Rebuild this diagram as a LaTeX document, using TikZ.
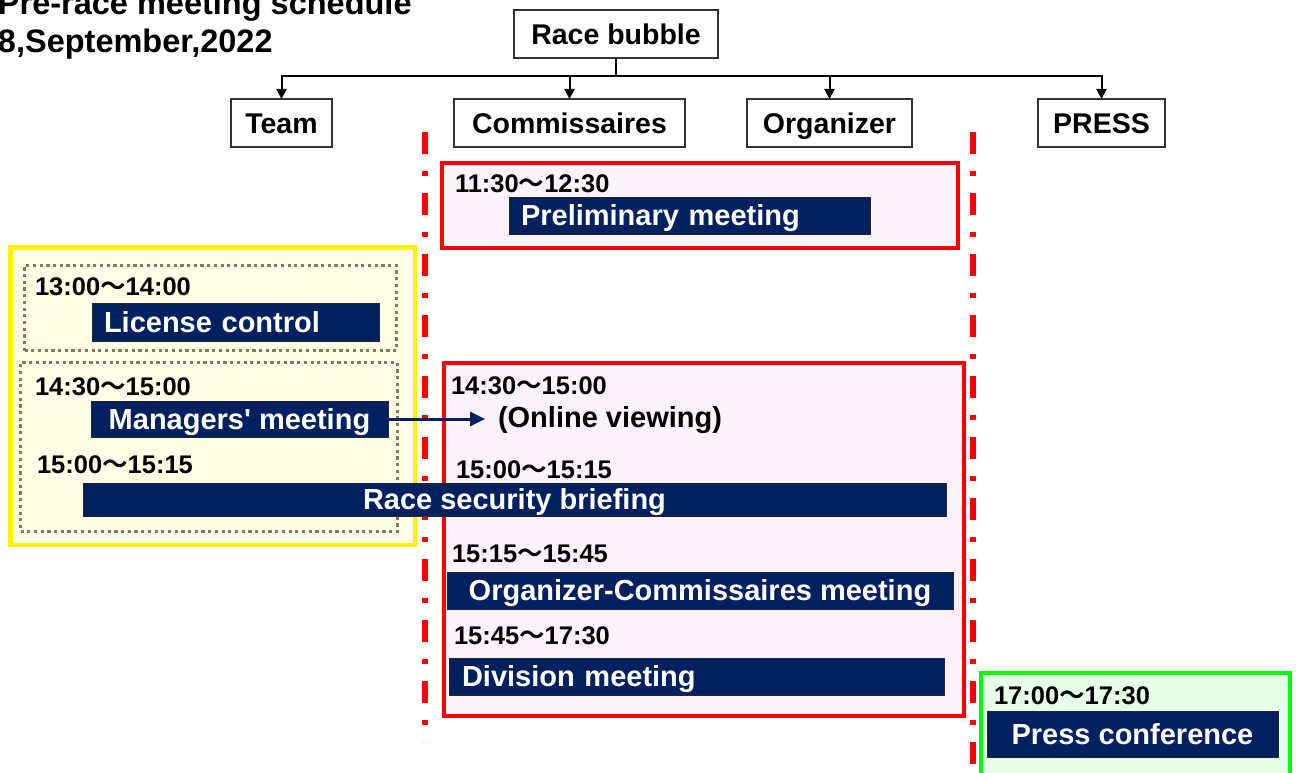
\documentclass[tikz,border=0pt]{standalone}
\usepackage{fontspec}
\setmainfont{Liberation Sans}
\newfontfamily\cjk{Noto Sans CJK JP}[BoldFont={Noto Sans CJK JP Bold}]
\usetikzlibrary{arrows.meta}
\definecolor{navy}{HTML}{002060}
\definecolor{pinkfill}{HTML}{FDF1FA}
\definecolor{creamfill}{HTML}{FFFEE6}
\definecolor{greenfill}{HTML}{E6FFE6}
\definecolor{dotbrown}{HTML}{8A7556}
\newcommand{\wv}{{\cjk ～}}
\newcommand{\sq}{\XeTeXglyph\XeTeXcharglyph"0027\relax}
\begin{document}
\begin{tikzpicture}[x=1pt,y=-1pt,
  every node/.style={inner sep=0pt, outer sep=0pt},
  titletext/.style={font=\fontsize{32.5}{38}\selectfont\bfseries, anchor=base west},
  headbox/.style={draw=black!80, line width=1.5pt, fill=white,
    font=\fontsize{28.5}{34}\selectfont\bfseries, text height=20.4pt, text depth=0pt,
    minimum height=48pt},
  timetext/.style={font=\fontsize{25.5}{30}\selectfont\bfseries, anchor=base west},
  plaintext/.style={font=\fontsize{29}{34}\selectfont\bfseries, anchor=base west},
  navybox/.style={draw=black!85, line width=0.8pt, fill=navy, text=white,
    font=\fontsize{29}{34}\selectfont\bfseries, text height=20.8pt, text depth=0pt},
  redbox/.style={draw=red, line width=4pt, fill=pinkfill},
  yellowbox/.style={draw=yellow, line width=4.5pt, fill=creamfill},
  greenbox/.style={draw=green, line width=4pt, fill=greenfill},
  dotbox/.style={draw=dotbrown, line width=3.2pt, dash pattern=on 3.2pt off 3.5pt},
  reddash/.style={draw=red, line width=5.5pt, dash pattern=on 22pt off 17pt on 5pt off 17pt},
  treearrow/.style={draw=black, line width=2pt, -{Triangle[length=10pt,width=10pt]}},
  navyarrow/.style={draw=navy, line width=3pt, -{Triangle[length=15pt,width=14pt]}}
]
\useasboundingbox (0,0) rectangle (1296,773);

% title
\node[titletext] (t1) at (-2,15) {Pre-race meeting schedule};
\node[titletext] (t2) at (-2,53) {8,September,2022};

% tree
\node[headbox, minimum width=204pt] (rb) at (616,34) {Race bubble};
\node[headbox, minimum width=101pt] (team) at (281.5,123) {Team};
\node[headbox, minimum width=231pt] (comm) at (569.5,123) {Commissaires};
\node[headbox, minimum width=165pt] (org) at (829.5,123) {Organizer};
\node[headbox, minimum width=127pt] (press) at (1101.5,123) {PRESS};
\coordinate (bus) at (616,76);
\draw[line width=2pt] (rb.south) -- (bus);
\draw[treearrow] (bus) -| (team.north);
\draw[treearrow] (bus) -| (comm.north);
\draw[treearrow] (bus) -| (org.north);
\draw[treearrow] (bus) -| (press.north);

% red dash-dot separators
\coordinate (d1a) at (425,132);
\coordinate (d1b) at (425,742);
\coordinate (d2a) at (973,132);
\coordinate (d2b) at (973,790);
\draw[reddash] (d1a) -- (d1b);
\draw[reddash] (d2a) -- (d2b);

% team area
\node[yellowbox, minimum width=404.5pt, minimum height=297.5pt] (yb) at (212.5,396) {};
\node[dotbox, minimum width=372pt, minimum height=85pt] (db1) at (210.5,308) {};
\node[dotbox, minimum width=377pt, minimum height=169pt] (db2) at (209,447) {};
\node[timetext] (tl1) at (35,295) {13:00\wv14:00};
\node[navybox, text width=263pt, inner xsep=12pt, align=left, minimum height=38pt] (lc) at (235.5,322) {License control};
\node[timetext] (tl2) at (35,395) {14:30\wv15:00};
\node[navybox, minimum width=297pt, minimum height=36pt, align=center] (mm) at (239.5,419) {Managers\sq{} meeting};
\node[timetext] (tl3) at (37,473) {15:00\wv15:15};

% commissaires / organizer area
\node[redbox, minimum width=516pt, minimum height=85pt] (rb1) at (700,205.5) {};
\node[timetext] (tc1) at (455,193) {11:30\wv12:30};
\node[navybox, text width=337pt, inner xsep=12pt, align=left, minimum height=37pt] (pm) at (689.5,215.5) {Preliminary meeting};

\node[redbox, minimum width=520pt, minimum height=353pt] (rb2) at (704,539.5) {};
\node[timetext] (tc2) at (451,394) {14:30\wv15:00};
\node[plaintext] (ov) at (498,427) {(Online viewing)};
\node[timetext] (tc3) at (456,478) {15:00\wv15:15};
\node[navybox, minimum width=863pt, minimum height=33pt, align=center] (rsb) at (514.5,499.5) {Race security briefing};
\node[timetext] (tc4) at (452,562) {15:15\wv15:45};
\node[navybox, minimum width=506pt, minimum height=37pt, align=center] (ocm) at (700,590.5) {Organizer-Commissaires meeting};
\node[timetext] (tc5) at (454,644) {15:45\wv17:30};
\node[navybox, text width=469pt, inner xsep=13pt, align=left, minimum height=37pt] (dm) at (696.5,676.5) {Division meeting};

% press area
\node[greenbox, minimum width=309pt, minimum height=117pt] (gb) at (1135.5,731.5) {};
\node[timetext] (tp1) at (994,704) {17:00\wv17:30};
\node[navybox, minimum width=291pt, minimum height=46pt, align=center] (pc) at (1132.5,734) {Press conference};

% managers' meeting arrow
\coordinate (ovtip) at (485,419);
\draw[navyarrow] (mm.east) -- (ovtip);
\end{tikzpicture}
\end{document}
